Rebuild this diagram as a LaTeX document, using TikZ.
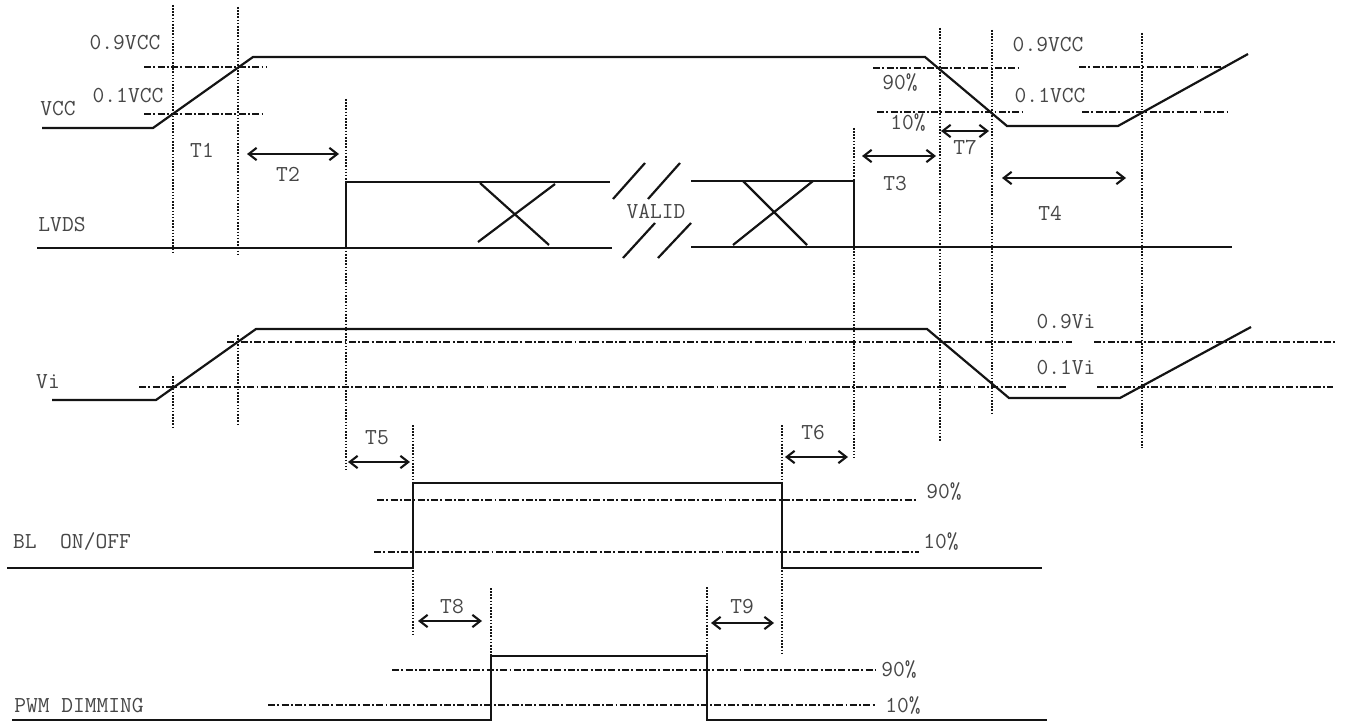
\documentclass[tikz,border=0pt]{standalone}
\usepackage{fontspec}
\usepackage{tikz}
\usetikzlibrary{arrows.meta}
\definecolor{mydark}{RGB}{20,20,20}
\definecolor{mytext}{RGB}{70,70,70}
\tikzset{
  sig/.style={line width=1.25pt, color=mydark, line join=miter},
  thresh/.style={line width=1.3pt, color=mydark, dash pattern=on 4pt off 1.3pt on 1.1pt off 1.3pt},
  marker/.style={line width=1pt, color=mydark, dash pattern=on 0.9pt off 0.9pt},
  span/.style={{Straight Barb[length=4.5pt,width=7pt]}-{Straight Barb[length=4.5pt,width=7pt]}, line width=1.2pt, color=mydark},
  lbl/.style={text=mytext, inner sep=0pt, font=\ttfamily\fontsize{13}{15}\selectfont}
}
\begin{document}
\begin{tikzpicture}[x=0.02cm, y=-0.02cm]
  \useasboundingbox (0,0) rectangle (1345,726);

  % Dotted time markers
  \draw[marker] (173,5) -- (173,253);
  \draw[marker] (173,376) -- (173,427);
  \draw[marker] (238,7) -- (238,255);
  \draw[marker] (238,335) -- (238,425);
  \draw[marker] (346,99) -- (346,470);
  \draw[marker] (413,425) -- (413,635);
  \draw[marker] (491,588) -- (491,656);
  \draw[marker] (707,587) -- (707,656);
  \draw[marker] (782,425) -- (782,653);
  \draw[marker] (854,128) -- (854,460);
  \draw[marker] (940,28) -- (940,442);
  \draw[marker] (992,30) -- (992,413);
  \draw[marker] (1142,33) -- (1142,448);

  % VCC
  \draw[thresh] (144,67) -- (267,67);
  \draw[thresh] (144,114) -- (265,114);
  \draw[thresh] (873,68) -- (1019,68);
  \draw[thresh] (877,112) -- (1022,112);
  \draw[thresh] (1079,67) -- (1227,67);
  \draw[thresh] (1082,112) -- (1227,112);
  \draw[sig] (42,128) -- (153,128) -- (253,57) -- (925,57) -- (1007,126) -- (1118,126) -- (1248,54);
  \node[lbl] (vccLbl) at (58,109) {VCC};
  \node[lbl] (vccHiL) at (125,43) {0.9VCC};
  \node[lbl] (vccLoL) at (128,96) {0.1VCC};
  \node[lbl] (vccHiR) at (1048,45) {0.9VCC};
  \node[lbl] (vccLoR) at (1050,96) {0.1VCC};
  \node[lbl] (pctHiTop) at (900,83) {90\%};
  \node[lbl] (pctLoTop) at (908,123) {10\%};

  % LVDS
  \draw[sig] (37,248) -- (612,248);
  \draw[sig] (346,248) -- (346,182) -- (610,182);
  \draw[sig] (480,183) -- (549,245);
  \draw[sig] (478,242) -- (555,184);
  \draw[sig] (613,199) -- (645,163);
  \draw[sig] (648,199) -- (680,163);
  \draw[sig] (623,258) -- (655,223);
  \draw[sig] (658,258) -- (691,223);
  \draw[sig] (691,181) -- (854,181) -- (854,247);
  \draw[sig] (691,247) -- (1232,247);
  \draw[sig] (743,181) -- (807,245);
  \draw[sig] (733,245) -- (813,181);
  \node[lbl] (lvdsLbl) at (62,225) {LVDS};
  \node[lbl] (validLbl) at (656,211) {VALID};

  % Vi
  \draw[thresh] (227,342) -- (1072,342);
  \draw[thresh] (1094,342) -- (1335,342);
  \draw[thresh] (139,387) -- (1067,387);
  \draw[thresh] (1097,387) -- (1333,387);
  \draw[sig] (52,400) -- (156,400) -- (256,329) -- (927,329) -- (1009,398) -- (1120,398) -- (1251,327);
  \node[lbl] (viLbl) at (48,382) {Vi};
  \node[lbl] (viHi) at (1066,322) {0.9Vi};
  \node[lbl] (viLo) at (1066,368) {0.1Vi};

  % BL ON/OFF
  \draw[thresh] (377,500) -- (917,500);
  \draw[thresh] (374,552) -- (919,552);
  \draw[sig] (7,568) -- (413,568) -- (413,483) -- (782,483) -- (782,568) -- (1042,568);
  \node[lbl] (blLbl) at (72,542) {BL\ \ ON/OFF};
  \node[lbl] (blHi) at (944,492) {90\%};
  \node[lbl] (blLo) at (941,542) {10\%};

  % PWM DIMMING
  \draw[thresh] (392,670) -- (876,670);
  \draw[thresh] (268,705) -- (876,705);
  \draw[sig] (12,720) -- (491,720) -- (491,656) -- (707,656) -- (707,720) -- (1047,720);
  \node[lbl] (pwmLbl) at (79,706) {PWM DIMMING};
  \node[lbl] (pwmHi) at (899,670) {90\%};
  \node[lbl] (pwmLo) at (903,706) {10\%};

  % Timing intervals
  \draw[span] (247,154) -- (339,154);
  \draw[span] (862,156) -- (936,156);
  \draw[span] (941,131) -- (989,131);
  \draw[span] (1002,178) -- (1126,178);
  \draw[span] (348,462) -- (410,462);
  \draw[span] (785,457) -- (848,457);
  \draw[span] (418,621) -- (482,621);
  \draw[span] (711,623) -- (774,623);
  \node[lbl] (t1) at (202,150) {T1};
  \node[lbl] (t2) at (288,174) {T2};
  \node[lbl] (t3) at (895,184) {T3};
  \node[lbl] (t4) at (1050,213) {T4};
  \node[lbl] (t5) at (377,438) {T5};
  \node[lbl] (t6) at (813,433) {T6};
  \node[lbl] (t7) at (965,147) {T7};
  \node[lbl] (t8) at (452,607) {T8};
  \node[lbl] (t9) at (742,607) {T9};
\end{tikzpicture}
\end{document}
